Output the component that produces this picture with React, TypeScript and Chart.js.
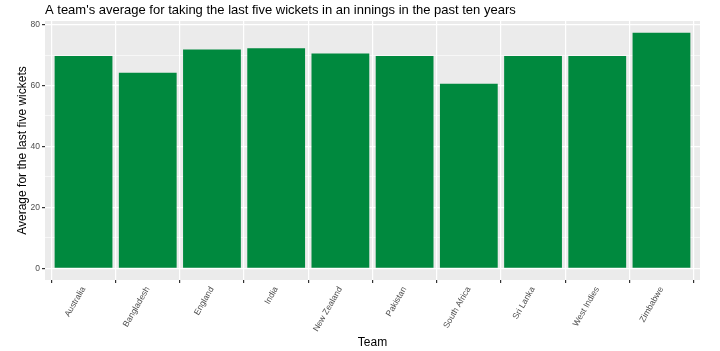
import React, { useEffect, useRef } from "react";
import { Chart, registerables } from "chart.js";

Chart.register(...registerables);

const teams = [
  "Australia",
  "Bangladesh",
  "England",
  "India",
  "New Zealand",
  "Pakistan",
  "South Africa",
  "Sri Lanka",
  "West Indies",
  "Zimbabwe",
];
const averages = [69.7, 64.2, 71.8, 72.2, 70.5, 69.7, 60.6, 69.7, 69.7, 77.3];
const yTicks = [0, 10, 20, 30, 40, 50, 60, 70, 80];
const yMajor = [0, 20, 40, 60, 80];

const titleText = "A team's average for taking the last five wickets in an innings in the past ten years";
const xTitle = "Team";
const yTitle = "Average for the last five wickets";

const panelBg = {
  id: "panelBg",
  beforeDraw(chart: any) {
    const { ctx, chartArea } = chart;
    if (!chartArea) return;
    ctx.save();
    ctx.fillStyle = "#EBEBEB";
    ctx.fillRect(chartArea.left, chartArea.top, chartArea.right - chartArea.left, chartArea.bottom - chartArea.top);
    ctx.restore();
  },
};

export default function App() {
  const ref = useRef<HTMLCanvasElement | null>(null);

  useEffect(() => {
    document.body.style.margin = "0";
    const canvas = ref.current;
    if (!canvas) return;
    const maxV = Math.max(...averages);
    const chart = new Chart(canvas, {
      type: "bar",
      data: {
        datasets: [
          {
            data: teams.map((t, i) => ({ x: i, y: averages[i] })),
            backgroundColor: "rgb(0,137,62)",
            borderWidth: 0,
            barPercentage: 0.9,
            categoryPercentage: 1.0,
          },
        ],
      },
      plugins: [panelBg],
      options: {
        animation: false,
        responsive: false,
        maintainAspectRatio: false,
        layout: { padding: { left: 0, right: 20, top: 0, bottom: 0 } },
        plugins: {
          legend: { display: false },
          tooltip: { enabled: false },
          title: {
            display: true,
            text: titleText,
            align: "start",
            fullSize: false,
            color: "#000000",
            font: { family: "'Liberation Sans', Arial, sans-serif", size: 13, weight: "normal" },
            padding: { top: 2.2, bottom: 3.2 },
          },
        },
        scales: {
          x: {
            type: "linear",
            min: -0.6,
            max: teams.length - 1 + 0.6,
            offset: false,
            afterBuildTicks: (scale: any) => {
              scale.ticks = teams.map((_, i) => ({ value: i }));
            },
            afterFit: (scale: any) => {
              scale.height = 71;
            },
            ticks: {
              autoSkip: false,
              minRotation: 60,
              maxRotation: 60,
              padding: 2,
              color: "#4D4D4D",
              font: { family: "'Liberation Sans', Arial, sans-serif", size: 8.5 },
              callback: (v: any) => teams[Math.round(Number(v))] ?? "",
            },
            grid: {
              color: "#FFFFFF",
              lineWidth: 1.2,
              drawTicks: true,
              tickLength: 3,
              tickColor: "#333333",
            },
            border: { display: false },
            title: {
              display: true,
              text: xTitle,
              color: "#000000",
              font: { family: "'Liberation Sans', Arial, sans-serif", size: 12 },
              padding: { top: 0, bottom: 1 },
            },
          },
          y: {
            type: "linear",
            min: -0.05 * maxV,
            max: 1.05 * maxV,
            afterBuildTicks: (scale: any) => {
              scale.ticks = yTicks.map((v) => ({ value: v }));
            },
            afterFit: (scale: any) => {
              scale.width = 45;
            },
            ticks: {
              padding: 2,
              color: "#4D4D4D",
              font: { family: "'Liberation Sans', Arial, sans-serif", size: 8.5 },
              callback: (v: any) => (yMajor.includes(Number(v)) ? String(v) : ""),
            },
            grid: {
              color: "#FFFFFF",
              lineWidth: (c: any) => (c.tick && yMajor.includes(c.tick.value) ? 1.2 : 0.6),
              drawTicks: true,
              tickLength: 3,
              tickColor: (c: any) => (c.tick && yMajor.includes(c.tick.value) ? "#333333" : "rgba(0,0,0,0)"),
            },
            border: { display: false },
            title: {
              display: true,
              text: yTitle,
              color: "#000000",
              font: { family: "'Liberation Sans', Arial, sans-serif", size: 12 },
              padding: { top: 15, bottom: 0 },
            },
          },
        },
      },
    } as any);
    return () => chart.destroy();
  }, []);

  return (
    <div style={{ width: 720, height: 351 }}>
      <canvas ref={ref} width={720} height={351} style={{ display: "block", width: 720, height: 351 }} />
    </div>
  );
}
